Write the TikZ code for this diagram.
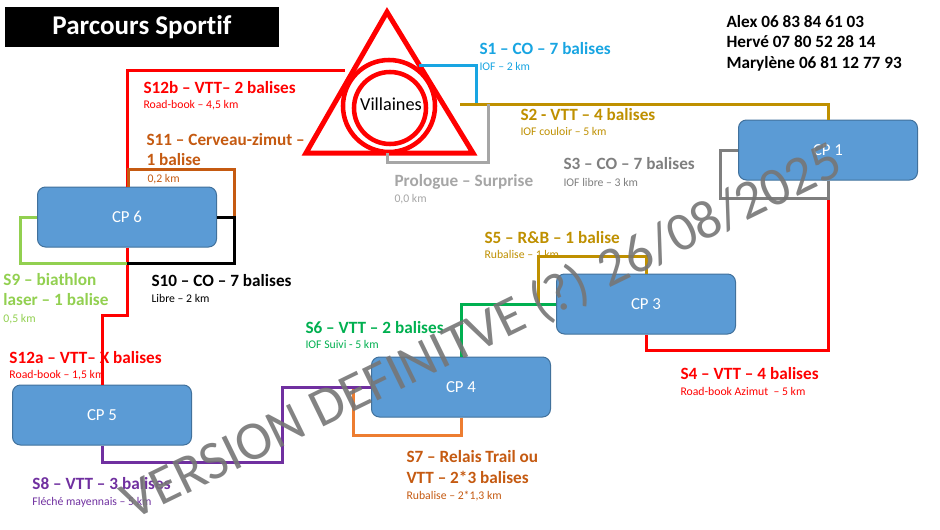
\documentclass[tikz,border=0pt]{standalone}
\usepackage{fontspec}
\setmainfont{Carlito}[Ligatures=NoCommon]

\definecolor{cpblue}{RGB}{91,155,213}
\definecolor{cpedge}{RGB}{65,113,156}
\definecolor{legred}{RGB}{255,0,0}
\definecolor{legcyan}{RGB}{24,165,226}
\definecolor{leggold}{RGB}{191,144,0}
\definecolor{leglgrey}{RGB}{166,166,166}
\definecolor{leggrey}{RGB}{127,127,127}
\definecolor{leggreen}{RGB}{0,176,80}
\definecolor{leglime}{RGB}{146,208,80}
\definecolor{legorange}{RGB}{237,125,49}
\definecolor{legbrown}{RGB}{197,90,17}
\definecolor{legpurple}{RGB}{112,48,160}

\newcommand{\lblfont}{\fontsize{12.9}{15.4}\selectfont\bfseries}
\newcommand{\kmfont}{\fontsize{8.8}{10.5}\selectfont}

\tikzset{every picture/.style={line width=0.75pt}}
\tikzset{
  cp/.style={draw=cpedge, fill=cpblue, rounded corners=6pt, minimum width=134.25pt,
    minimum height=45pt, text=white, font=\fontsize{12.6}{15}\selectfont},
  leg/.style={line width=2.25pt},
  lbl/.style={anchor=base west, inner sep=0pt, font=\lblfont},
  km/.style={anchor=base west, inner sep=0pt, font=\kmfont},
}

\begin{document}
\begin{tikzpicture}[x=0.75pt,y=0.75pt,yscale=-1,xscale=1]
\useasboundingbox (0,0) rectangle (940,529);
\fill[white] (0,0) rectangle (940,529);

% Title and phone numbers
\node[fill=black, text=white, minimum width=205.5pt, minimum height=30pt,
  font=\fontsize{20.3}{24}\selectfont\bfseries] (title) at (142,27) {Parcours Sportif};
\node[lbl] (alex) at (726,27) {Alex 06 83 84 61 03};
\node[lbl] (herve) at (726,47.5) {Hervé 07 80 52 28 14};
\node[lbl] (maryl) at (726,68) {Marylène 06 81 12 77 93};

% Villaines
\coordinate (apex) at (387,12);
\coordinate (bl) at (306,153);
\coordinate (br) at (473,153);
\draw[legred, line width=3.75pt] (apex) -- (br) -- (bl) -- cycle;
\draw[legred, line width=3.4pt] (389,106) circle (46);
\draw[legred, line width=3.4pt] (390,108) circle (36);
\node[font=\fontsize{13.7}{16}\selectfont] (vil) at (391,104) {Villaines};

% Control points
\node[cp] (cp1) at (828,150) {CP 1};
\node[cp] (cp3) at (646,304) {CP 3};
\node[cp] (cp4) at (461,387) {CP 4};
\node[cp] (cp5) at (102,415) {CP 5};
\node[cp] (cp6) at (127,217) {CP 6};

% Junctions
\coordinate (out1) at (419,65);
\coordinate (j1) at (476,104);
\coordinate (out2) at (460,104);
\coordinate (j0) at (488,104);
\coordinate (outp) at (387,153);
\coordinate (in12) at (345,70);
\coordinate (j6e) at (234,217);
\coordinate (j6b) at (127,263.5);
\coordinate (j3) at (538,304);
\coordinate (j4) at (353,387);

% Legs
\draw[leg, legcyan] (out1) -| (j1);
\draw[leg, leggold] (out2) -| (cp1.north);
\draw[leg, leglgrey] (j0) -- ++(0,58) -| (outp);
\draw[leg, legred] (cp1.south) -- ++(0,170) -| (cp3.south);
\draw[leg, leggrey] (cp1.west) -| (720,198) -| (cp1.south);
\draw[leg, leggold] (cp3.north) |- (538,256) -- (j3);
\draw[leg, leggreen] (cp3.west) -| (cp4.north);
\draw[leg, legorange] (cp4.south) |- (353,435) -- (j4);
\draw[leg, legpurple] (cp5.south) |- (282,462) |- (cp4.west);
\draw[leg, legred] (cp6.south) -- ++(0,68) -| (cp5.north);
\draw[leg, leglime] (cp6.west) -- ++(-17,0) |- (j6b);
\draw[leg, legred] (cp6.north) |- (in12);
\draw[leg, legbrown] ([xshift=0.75pt]cp6.north) -- ++(0,-17) -| (j6e);
\draw[leg, black] (cp6.east) -- (j6e) |- (j6b);

% Labels
\node[lbl, legcyan] (s1) at (479,54) {S1 – CO – 7 balises};
\node[km, legcyan] (s1km) at (479,70) {IOF – 2 km};
\node[lbl, leggold] (s2) at (520,120) {S2 - VTT – 4 balises};
\node[km, leggold] (s2km) at (520,135) {IOF couloir – 5 km};
\node[lbl, leggrey] (s3) at (563,169) {S3 – CO – 7 balises};
\node[km, leggrey] (s3km) at (563,186) {IOF libre – 3 km};
\node[lbl, leglgrey] (pro) at (394,186) {Prologue – Surprise};
\node[km, leglgrey] (prokm) at (394,202) {0,0 km};
\node[lbl, legred] (s4) at (680,379) {S4 – VTT – 4 balises};
\node[km, legred] (s4km) at (680,395) {Road-book Azimut \ – 5 km};
\node[lbl, leggold] (s5) at (484,243) {S5 – R\&B – 1 balise};
\node[km, leggold] (s5km) at (484,258) {Rubalise – 1 km};
\node[lbl, leggreen] (s6) at (305,333) {S6 – VTT – 2 balises};
\node[km, leggreen] (s6km) at (305,348) {IOF Suivi - 5 km};
\node[lbl, legbrown] (s7) at (406,462) {S7 – Relais Trail ou};
\node[lbl, legbrown] (s7b) at (406,483) {VTT – 2*3 balises};
\node[km, legbrown] (s7km) at (406,499) {Rubalise – 2*1,3 km};
\node[lbl, legpurple] (s8) at (32,489) {S8 – VTT – 3 balises};
\node[km, legpurple] (s8km) at (32,505) {Fléché mayennais – 5 km};
\node[lbl, leglime] (s9) at (3,285) {S9 – biathlon};
\node[lbl, leglime] (s9b) at (3,305) {laser – 1 balise};
\node[km, leglime] (s9km) at (3,322) {0,5 km};
\node[lbl, black] (s10) at (151,286) {S10 – CO – 7 balises};
\node[km, black] (s10km) at (151,302) {Libre – 2 km};
\node[lbl, legbrown] (s11) at (146,145) {S11 – Cerveau-zimut –};
\node[lbl, legbrown] (s11b) at (146,165) {1 balise};
\node[km, legbrown] (s11km) at (147,182) {0,2 km};
\node[lbl, legred] (s12a) at (9,363) {S12a – VTT– X balises};
\node[km, legred] (s12akm) at (9,378) {Road-book – 1,5 km};
\node[lbl, legred] (s12b) at (143,93) {S12b – VTT– 2 balises};
\node[km, legred] (s12bkm) at (143,108) {Road-book – 4,5 km};

% Watermark
\node[rotate=26, text={rgb,255:red,118;green,118;blue,118}, text opacity=0.9,
  font=\fontsize{41}{48}\selectfont] (stamp) at (482,332) {VERSION DEFINITVE (?) 26/08/2025};
\end{tikzpicture}
\end{document}
